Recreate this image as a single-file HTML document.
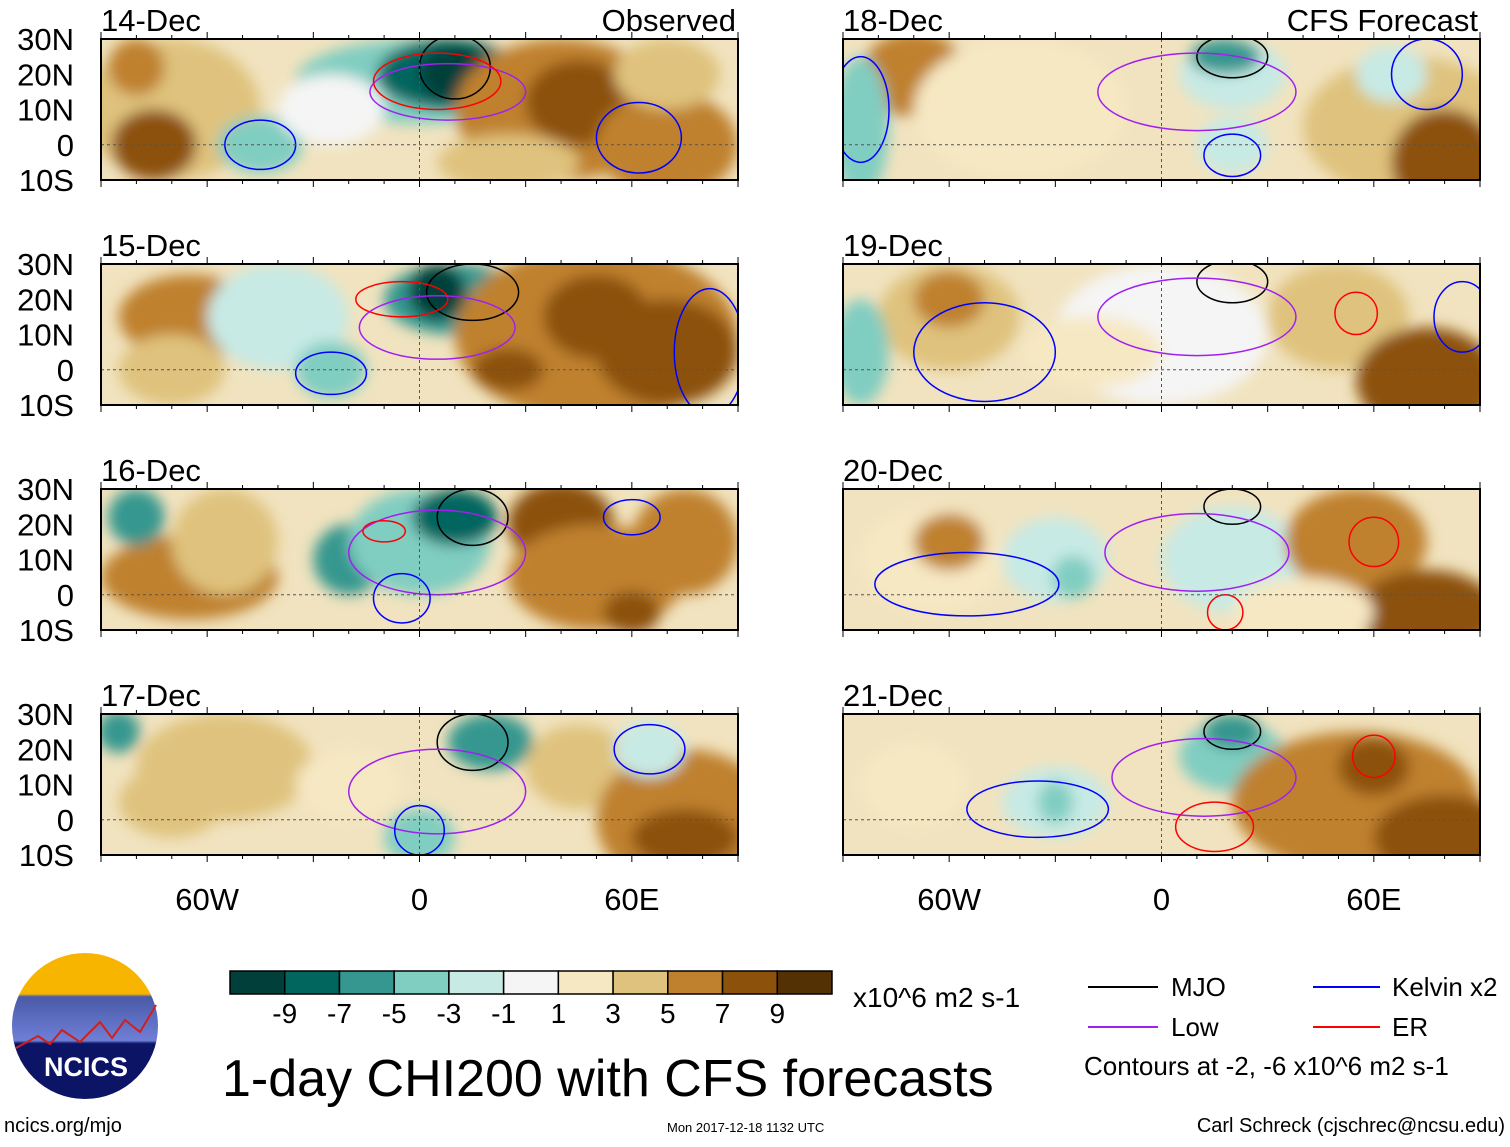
<!DOCTYPE html>
<html><head><meta charset="utf-8">
<style>
html,body{margin:0;padding:0;background:#fff;}
svg text{font-family:"Liberation Sans",sans-serif;fill:#000;}
</style></head>
<body>
<svg id="chart" width="1510" height="1142" viewBox="0 0 1510 1142" xmlns="http://www.w3.org/2000/svg">
<defs>
<filter id="blur" x="-20%" y="-20%" width="140%" height="140%"><feGaussianBlur stdDeviation="7"/></filter>
<linearGradient id="logoGrad" x1="0" y1="0" x2="0" y2="1">
<stop offset="0" stop-color="#f7b500"/><stop offset="0.28" stop-color="#f7b500"/>
<stop offset="0.3" stop-color="#4a5aa8"/><stop offset="0.6" stop-color="#6f7fd6"/>
<stop offset="0.62" stop-color="#0c1466"/><stop offset="1" stop-color="#0c1466"/>
</linearGradient>
</defs>
<g id="panels"></g>
<g id="footer">
<g>
<circle cx="85" cy="1026" r="73" fill="url(#logoGrad)"/>
<polyline points="16,1048 38,1036 50,1044 62,1030 80,1042 100,1022 112,1038 125,1020 140,1032 156,1005" fill="none" stroke="#d0201c" stroke-width="2"/>
<text x="86" y="1076" text-anchor="middle" font-size="27" font-weight="bold" style="fill:#fff">NCICS</text>
</g>
<text x="4" y="1132" font-size="20">ncics.org/mjo</text>
<g id="colorbar"></g>
<text x="853" y="1007" font-size="28">x10^6 m2 s-1</text>
<text x="222" y="1096" font-size="52">1-day CHI200 with CFS forecasts</text>
<text x="667" y="1132" font-size="13">Mon 2017-12-18 1132 UTC</text>
<text x="1505" y="1132" font-size="20" text-anchor="end">Carl Schreck (cjschrec@ncsu.edu)</text>
<g>
<line x1="1088" y1="987" x2="1158" y2="987" stroke="#000" stroke-width="2"/><text x="1171" y="996" font-size="26">MJO</text>
<line x1="1088" y1="1027" x2="1158" y2="1027" stroke="#a020f0" stroke-width="2"/><text x="1171" y="1036" font-size="26">Low</text>
<line x1="1313" y1="987" x2="1380" y2="987" stroke="#0000ff" stroke-width="2"/><text x="1392" y="996" font-size="26">Kelvin x2</text>
<line x1="1313" y1="1027" x2="1380" y2="1027" stroke="#ff0000" stroke-width="2"/><text x="1392" y="1036" font-size="26">ER</text>
<text x="1084" y="1075" font-size="26">Contours at -2, -6 x10^6 m2 s-1</text>
</g>
</g>
</svg>
<script>
const levels = [-9,-7,-5,-3,-1,1,3,5,7,9];
const colors = ["#01403a","#01665e","#35978f","#80cdc1","#c7eae5","#f5f5f5","#f6e8c3","#dfc27d","#bf812d","#8c510a","#543005"];
const panelTitles = ["14-Dec","15-Dec","16-Dec","17-Dec","18-Dec","19-Dec","20-Dec","21-Dec"];
const latTicks = [30,20,10,0,-10];
const latLabels = ["30N","20N","10N","0","10S"];
const lonTicks = [-60,0,60];
const lonLabels = ["60W","0","60E"];
// blobs: [lon, lat, lonRadius, latRadius, value]
const blobs0 = [[-70,10,25,20,5],[-75,0,12,10,8],[-80,22,8,8,7],[-45,0,12,8,-3],[0,18,35,12,-3],[8,20,20,10,-7],[10,20,10,8,-9],[40,10,30,20,6],[45,12,15,12,9],[70,0,20,15,6],[70,20,15,10,4],[-25,10,15,10,0],[25,-5,20,8,4]];
const blobs1 = [[-65,15,20,12,6],[-70,0,15,10,4],[-40,15,20,15,-2],[-25,0,10,8,-4],[10,20,20,10,-5],[5,22,8,8,-9],[50,10,40,25,7],[50,15,15,12,9],[25,0,10,6,9],[70,5,20,15,8]];
const blobs2 = [[-65,5,25,12,6],[-55,15,15,15,4],[-80,22,8,8,-6],[-20,10,10,10,-6],[0,15,20,15,-3],[10,22,12,8,-7],[40,20,15,12,9],[50,5,25,15,6],[60,-5,8,6,9],[75,15,15,15,6]];
const blobs3 = [[-55,15,25,15,4],[-70,5,15,10,5],[-85,25,6,6,-5],[-20,10,15,10,3],[0,-5,10,8,-3],[20,22,12,8,-6],[45,15,15,12,5],[75,0,25,20,7],[75,-5,15,8,9],[65,20,10,8,-2]];
const blobs4 = [[-70,20,15,12,6],[-85,5,8,20,-3],[-40,10,30,20,3],[20,20,15,10,-2],[18,25,10,5,-5],[70,5,30,20,4],[80,-5,15,15,9],[65,20,10,8,-2],[20,0,10,8,-2]];
const blobs5 = [[-60,15,20,15,4],[-60,20,10,8,6],[-85,5,8,15,-3],[0,10,30,20,1],[50,15,20,15,5],[75,-3,20,15,8],[80,-8,12,8,9],[-20,5,20,10,2]];
const blobs6 = [[-65,10,20,15,3],[-60,15,10,8,6],[-30,10,15,12,-2],[-25,5,6,6,-4],[20,10,20,15,-1],[55,15,20,15,6],[75,-5,20,12,8],[80,-8,10,6,9],[40,-5,20,10,3]];
const blobs7 = [[-70,10,15,12,3],[-30,5,15,10,-2],[-30,5,5,6,-3],[20,18,15,10,-3],[20,25,8,5,-6],[55,5,35,20,6],[60,15,10,8,8],[80,-5,20,12,9]];
const allBlobs = [blobs0,blobs1,blobs2,blobs3,blobs4,blobs5,blobs6,blobs7];
// contours: [type, lon, lat, lonRadius, latRadius]
const contours0 = [["mjo",10,22,10,9],["low",8,15,22,8],["er",5,18,18,8],["kelvin",-45,0,10,7],["kelvin",62,2,12,10]];
const contours1 = [["mjo",15,22,13,8],["er",-5,20,13,5],["low",5,12,22,9],["kelvin",-25,-1,10,6],["kelvin",82,5,10,18]];
const contours2 = [["mjo",15,22,10,8],["low",5,12,25,12],["kelvin",-5,-1,8,7],["kelvin",60,22,8,5],["er",-10,18,6,3]];
const contours3 = [["mjo",15,22,10,8],["low",5,8,25,12],["kelvin",0,-3,7,7],["kelvin",65,20,10,7]];
const contours4 = [["mjo",20,25,10,6],["low",10,15,28,11],["kelvin",20,-3,8,6],["kelvin",75,20,10,10],["kelvin",-85,10,8,15]];
const contours5 = [["mjo",20,25,10,6],["low",10,15,28,11],["kelvin",-50,5,20,14],["kelvin",85,15,8,10],["er",55,16,6,6]];
const contours6 = [["mjo",20,25,8,5],["low",10,12,26,11],["kelvin",-55,3,26,9],["er",60,15,7,7],["er",18,-5,5,5]];
const contours7 = [["mjo",20,25,8,5],["low",12,12,26,11],["kelvin",-35,3,20,8],["er",15,-2,11,7],["er",60,18,6,6]];
const allContours = [contours0,contours1,contours2,contours3,contours4,contours5,contours6,contours7];
const contourColors = {mjo:"#000000",low:"#a020f0",kelvin:"#0000ff",er:"#ff0000"};

const NS = "http://www.w3.org/2000/svg";
function mk(tag, attrs, parent){const e=document.createElementNS(NS,tag);for(const k in attrs)e.setAttribute(k,attrs[k]);if(parent)parent.appendChild(e);return e;}
function colorFor(v){let i=0;while(i<levels.length&&v>levels[i])i++;return colors[i];}
const colX=[101,843], rowY=[39,264,489,714], PW=637, PH=141;
const panelsG=document.getElementById('panels');
for(let p=0;p<8;p++){
  const x0=colX[p<4?0:1], y0=rowY[p%4];
  const xs=lon=>x0+(lon+90)/180*PW;
  const ys=lat=>y0+(30-lat)/40*PH;
  const g=mk('g',{},panelsG);
  
  
  const cp=mk('clipPath',{id:'clip'+p},g);
  mk('rect',{x:x0,y:y0,width:PW,height:PH},cp);
  const field=mk('g',{'clip-path':'url(#clip'+p+')'},g);
  mk('rect',{x:x0,y:y0,width:PW,height:PH,fill:'#f1e3bf'},field);
  const bg=mk('g',{filter:'url(#blur)'},field);
  allBlobs[p].forEach(b=>{
    const el=mk('ellipse',{cx:xs(b[0]),cy:ys(b[1]),rx:b[2]/180*PW,ry:b[3]/40*PH,fill:colorFor(b[4])},bg);
    
    
  });
  allContours[p].forEach(c=>{
    const el=mk('ellipse',{cx:xs(c[1]),cy:ys(c[2]),rx:c[3]/180*PW,ry:c[4]/40*PH,fill:'none',stroke:contourColors[c[0]],'stroke-width':1.5},field);
    
    
  });
  mk('line',{x1:x0,y1:ys(0),x2:x0+PW,y2:ys(0),stroke:'#555','stroke-dasharray':'3,3','stroke-width':1},field);
  mk('line',{x1:xs(0),y1:y0,x2:xs(0),y2:y0+PH,stroke:'#555','stroke-dasharray':'3,3','stroke-width':1},field);
  mk('rect',{x:x0,y:y0,width:PW,height:PH,fill:'none',stroke:'#000','stroke-width':2},g);
  for(let lon=-90;lon<=90;lon+=10){
    const L=lon%30===0?7:4;
    mk('line',{x1:xs(lon),y1:y0,x2:xs(lon),y2:y0-L,stroke:'#000','stroke-width':1},g);
    mk('line',{x1:xs(lon),y1:y0+PH,x2:xs(lon),y2:y0+PH+L,stroke:'#000','stroke-width':1},g);
  }
  const t=mk('text',{x:x0,y:y0-8,'font-size':31},g);t.textContent=panelTitles[p];
  
  
  if(p===0){const r=mk('text',{x:x0+PW-2,y:y0-8,'font-size':31,'text-anchor':'end'},g);r.textContent='Observed';}
  if(p===4){const r=mk('text',{x:x0+PW-2,y:y0-8,'font-size':31,'text-anchor':'end'},g);r.textContent='CFS Forecast';}
  if(p<4){
    latTicks.forEach((lt,i)=>{const l=mk('text',{x:74,y:ys(lt)+11,'font-size':31,'text-anchor':'end'},g);l.textContent=latLabels[i];
      
      });
  }
  if(p%4===3){
    lonTicks.forEach((ln,i)=>{const l=mk('text',{x:xs(ln),y:910,'font-size':31,'text-anchor':'middle'},g);l.textContent=lonLabels[i];
      
      });
  }
}
const cb=document.getElementById('colorbar');
const bw=602/11;
colors.forEach((c,i)=>{
  const r=mk('rect',{x:230+i*bw,y:971,width:bw,height:23,fill:c,stroke:'#000','stroke-width':1.5},cb);
  
  
});
levels.forEach((v,i)=>{
  const t=mk('text',{x:230+(i+1)*bw,y:1023,'font-size':28,'text-anchor':'middle'},cb);t.textContent=v;
  
  
});
</script>
</body></html>
